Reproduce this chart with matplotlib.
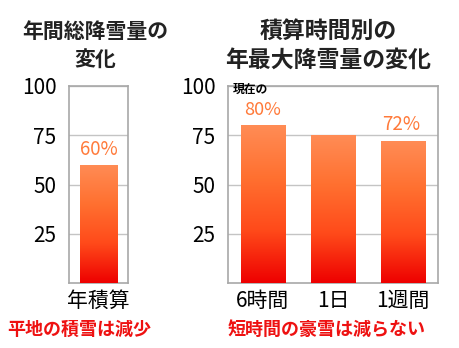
import numpy as np
import matplotlib
matplotlib.use("Agg")
import matplotlib.pyplot as plt
from matplotlib.colors import LinearSegmentedColormap

plt.rcParams['font.family'] = ['Noto Sans CJK JP', 'DejaVu Sans']

left_cats = ["年積算"]
left_vals = [60]
right_cats = ["6時間", "1日", "1週間"]
right_vals = [80, 75, 72]
yticks = [25, 50, 75, 100]
left_title = ["年間総降雪量の", "変化"]
right_title = ["積算時間別の", "年最大降雪量の変化"]
left_note = "平地の積雪は減少"
right_note = "短時間の豪雪は減らない"

W, H = 460, 348
fig = plt.figure(figsize=(W/100, H/100), dpi=100)

cmap = LinearSegmentedColormap.from_list("g", ["#EE0000", "#FF4A1A", "#FF7030", "#FF8C55"])
grad = np.linspace(0, 1, 256).reshape(-1, 1)

def ax_at(x0, x1, y0, y1):
    return fig.add_axes([x0/W, 1-y1/H, (x1-x0)/W, (y1-y0)/H])

def draw(ax, cats, vals, width):
    x = np.arange(len(cats))
    ax.set_xlim(-0.5, len(cats)-0.5)
    ax.set_ylim(0, 100)
    for xi, v in zip(x, vals):
        bars = ax.bar(xi, v, width=width, color='none', edgecolor='none', zorder=3)
        b = bars[0]
        im = ax.imshow(grad, cmap=cmap, aspect='auto', origin='lower',
                       extent=[xi-width/2, xi+width/2, 0, v], zorder=3)
        im.set_clip_path(b)
    ax.set_yticks(yticks)
    ax.set_yticklabels([str(t) for t in yticks], fontsize=15)
    ax.yaxis.grid(True, color='#C4C4C4', lw=1, zorder=0)
    ax.set_axisbelow(True)
    ax.tick_params(axis='y', length=0, pad=9)
    ax.set_xticks(x)
    ax.set_xticklabels(cats, fontsize=15)
    ax.tick_params(axis='x', length=0, pad=5)
    for s in ax.spines.values():
        s.set_color('#A8A8A8')
        s.set_linewidth(1.2)

axL = ax_at(69, 128, 86, 283)
draw(axL, left_cats, left_vals, 0.63)
axR = ax_at(228, 438, 86, 283)
draw(axR, right_cats, right_vals, 0.64)

orange = '#FF7A3A'
axL.text(0, left_vals[0] + 5, f"{left_vals[0]}%", ha='center', va='baseline',
         color=orange, fontsize=13.5)
axR.text(0, right_vals[0] + 5.3, f"{right_vals[0]}%", ha='center', va='baseline',
         color=orange, fontsize=13)
axR.text(-0.43, right_vals[0] + 16.3, "現在の", ha='left', va='baseline',
         color='black', fontsize=8.5, fontweight='bold')
axR.text(2 - 0.02, right_vals[2] + 5.7, f"{right_vals[2]}%", ha='center', va='baseline',
         color=orange, fontsize=13.5)

for i, line in enumerate(left_title):
    fig.text(95/W, 1-(31 + 29*i)/H, line, ha='center', va='center', fontsize=15,
             fontweight='bold', color='#222222')
for i, line in enumerate(right_title):
    fig.text(328/W, 1-(31 + 29*i)/H, line, ha='center', va='center', fontsize=16.5,
             fontweight='bold', color='#222222')
fig.text(79/W, 1-329/H, left_note, ha='center', va='center', fontsize=13,
         fontweight='bold', color='#EE1111')
fig.text(327/W, 1-329/H, right_note, ha='center', va='center', fontsize=13,
         fontweight='bold', color='#EE1111')

fig.savefig("out.png", dpi=100, facecolor='white')
